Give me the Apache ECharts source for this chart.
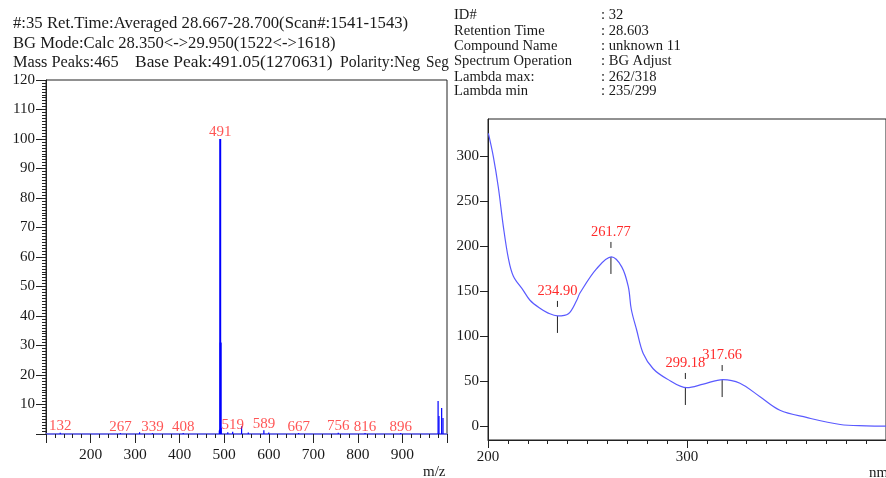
<!DOCTYPE html>
<html>
<head>
<meta charset="utf-8">
<script src="https://cdn.jsdelivr.net/npm/echarts@6/dist/echarts.min.js"></script>
<style>
  html, body { margin: 0; padding: 0; background: #fff; }
  #chart { width: 886px; height: 478px; }
</style>
</head>
<body>
<div id="chart"></div>
<script>
// mass spectrum: m/z and relative intensity (%)
const massMz = [132, 267, 310, 339, 408, 489, 490, 491, 492, 493, 508, 519, 539, 554, 589, 600, 667, 756, 816, 896, 980, 982, 988, 991];
const massInt = [0.4, 0.3, 0.6, 0.3, 0.3, 1.2, 1.5, 100, 31, 2, 0.6, 0.8, 2.6, 0.5, 1.3, 0.5, 0.3, 0.4, 0.3, 0.3, 11.2, 6.1, 8.8, 5.4];
const massLabels = [132, 267, 339, 408, 491, 519, 589, 667, 756, 816, 896];

// UV spectrum: wavelength (nm) and absorbance (mAU)
const uvNm = [200.2, 202.7, 205.2, 207.7, 210.2, 212.7, 217.7, 221.1, 226.1, 230, 235, 240.4, 244.6, 246.2, 254.6, 262, 267.2, 270.5, 272, 274.7, 278, 283, 289.8, 300, 308.2, 318, 326.6, 336.7, 346.7, 360, 377, 390, 400];
const uvAbs = [325, 299, 265, 222, 187, 167, 151, 140, 131, 126, 122.6, 125, 140, 148, 175, 188, 177, 155, 130, 107, 81, 64, 53, 43, 47, 52, 48, 33, 18, 10, 2.2, 0.7, 0.3];
const uvPeakNm = [234.90, 261.77, 299.18, 317.66];
const uvPeakAbs = [122.6, 188, 42.7, 51.5];

const uvYLabels = [0, 50, 100, 150, 200, 250, 300];
const uvYMinor = [-10, 0, 10, 20, 30, 40, 50, 60, 70, 80, 90, 100, 110, 120, 130, 140, 150, 160, 170, 180, 190, 200, 210, 220, 230, 240, 250, 260, 270, 280, 290, 300, 310, 320, 330, 340];

const headLeft = [
  '#:35 Ret.Time:Averaged 28.667-28.700(Scan#:1541-1543)',
  'BG Mode:Calc 28.350<->29.950(1522<->1618)'
];
const headLeft3 = ['Mass Peaks:465', 'Base Peak:491.05(1270631)', 'Polarity:Neg', 'Seg'];
const infoKeys = ['ID#', 'Retention Time', 'Compound Name', 'Spectrum Operation', 'Lambda max:', 'Lambda min'];
const infoVals = [': 32', ': 28.603', ': unknown 11', ': BG Adjust', ': 262/318', ': 235/299'];

const SERIF = "'Liberation Serif', 'DejaVu Serif', serif";
const INK = '#1a1a1a';
const RED = '#ff2a2a';

const massData = massMz.map((m, i) => [m, massInt[i]]);
const massLabelData = massLabels.map(m => [m, massInt[massMz.indexOf(m)]]);
const uvData = uvNm.map((n, i) => [n, uvAbs[i]]);
const uvPeaks = uvPeakNm.map((n, i) => [n, uvPeakAbs[i]]);

// header text, stretched a little to match the original's wide digits
const graphics = [];
const headScale = [1.045, 1.038];
headLeft.forEach((t, i) => {
  graphics.push({ type: 'text', x: 13, y: 24 + i * 19.5, scaleX: headScale[i],
    style: { x: 0, y: 0, text: t, font: '16px ' + SERIF, fill: INK, verticalAlign: 'middle' } });
});
const l3x = [13, 135, 340, 426];
const l3s = [1.02, 1.09, 0.98, 0.95];
headLeft3.forEach((t, i) => {
  graphics.push({ type: 'text', x: l3x[i], y: 63, scaleX: l3s[i],
    style: { x: 0, y: 0, text: t, font: '16px ' + SERIF, fill: INK, verticalAlign: 'middle' } });
});
const infoY = [15, 31, 46, 61.5, 77, 91.5];
infoKeys.forEach((t, i) => {
  graphics.push({ type: 'text', style: { x: 454, y: infoY[i], text: t, font: '14.6px ' + SERIF, fill: INK, verticalAlign: 'middle' } });
  graphics.push({ type: 'text', style: { x: 601, y: infoY[i], text: infoVals[i], font: '14.6px ' + SERIF, fill: INK, verticalAlign: 'middle' } });
});
graphics.push({ type: 'text', style: { x: 423, y: 472, text: 'm/z', font: '15px ' + SERIF, fill: INK, verticalAlign: 'middle' } });
graphics.push({ type: 'text', style: { x: 869, y: 473, text: 'nm', font: '15px ' + SERIF, fill: INK, verticalAlign: 'middle' } });

const chart = echarts.init(document.getElementById('chart'), null, { renderer: 'canvas' });

const option = {
  animation: false,
  backgroundColor: '#fff',
  textStyle: { fontFamily: SERIF },
  graphic: graphics,
  grid: [
    { left: 46, top: 80, width: 401, bottom: 44, show: true, borderColor: '#222', borderWidth: 1 },
    { left: 488, top: 119, right: -2, bottom: 38, show: true, borderColor: '#222', borderWidth: 1 }
  ],
  xAxis: [
    {
      gridIndex: 0, type: 'value', min: 100, max: 1000, interval: 100,
      axisLine: { onZero: false, lineStyle: { color: '#6a6aff', width: 1.5 } },
      axisTick: { length: 9, lineStyle: { color: '#222' } },
      minorTick: { show: true, splitNumber: 5, length: 4, lineStyle: { color: '#222' } },
      axisLabel: { showMinLabel: false, showMaxLabel: false, color: INK, fontSize: 15.5, fontFamily: SERIF, margin: 13 },
      splitLine: { show: false }
    },
    {
      gridIndex: 1, type: 'value', min: 200, max: 400, interval: 100,
      axisLine: { onZero: false, lineStyle: { color: '#222' } },
      axisTick: { length: 8, lineStyle: { color: '#222' } },
      minorTick: { show: true, splitNumber: 10, length: 4, lineStyle: { color: '#222' } },
      axisLabel: { showMaxLabel: false, color: INK, fontSize: 15, fontFamily: SERIF, margin: 10 },
      splitLine: { show: false }
    }
  ],
  yAxis: [
    {
      gridIndex: 0, type: 'value', min: 0, max: 120, interval: 10,
      axisLine: { show: true, lineStyle: { color: '#222' } },
      axisTick: { length: 10, lineStyle: { color: '#222' } },
      minorTick: { show: true, splitNumber: 10, length: 4, lineStyle: { color: '#222' } },
      axisLabel: { showMinLabel: false, color: INK, fontSize: 15, fontFamily: SERIF, margin: 11 },
      splitLine: { show: false }
    },
    {
      gridIndex: 1, type: 'value', min: -15, max: 341,
      axisLine: { show: true, lineStyle: { color: '#222' } },
      axisTick: { length: 8, customValues: uvYLabels, lineStyle: { color: '#222' } },
      axisLabel: { customValues: uvYLabels, color: INK, fontSize: 15, fontFamily: SERIF, margin: 9 },
      splitLine: { show: false }
    },
    {
      gridIndex: 1, type: 'value', min: -15, max: 341,
      axisLine: { show: false },
      axisTick: { length: 4, customValues: uvYMinor, lineStyle: { color: '#222' } },
      axisLabel: { show: false },
      splitLine: { show: false }
    }
  ],
  series: [
    {
      type: 'custom', xAxisIndex: 0, yAxisIndex: 0, data: massData, clip: true,
      renderItem: (params, api) => {
        const p0 = api.coord([api.value(0), 0]);
        const p1 = api.coord([api.value(0), api.value(1)]);
        return {
          type: 'line',
          shape: { x1: p0[0], y1: p0[1], x2: p1[0], y2: p1[1] },
          style: { stroke: '#0000ff', lineWidth: api.value(1) > 20 ? 2 : 1.2 }
        };
      }
    },
    {
      type: 'scatter', xAxisIndex: 0, yAxisIndex: 0, data: massLabelData, symbolSize: 0,
      label: {
        show: true, position: 'top', distance: 0, offset: [0, 1], color: RED, fontSize: 15, fontFamily: SERIF,
        formatter: p => String(p.value[0])
      }
    },
    {
      type: 'line', xAxisIndex: 1, yAxisIndex: 1, data: uvData, smooth: 0.35, showSymbol: false,
      lineStyle: { color: '#5a5aff', width: 1.2 }
    },
    {
      type: 'custom', xAxisIndex: 1, yAxisIndex: 1, data: uvPeaks,
      renderItem: (params, api) => {
        const p = api.coord([api.value(0), api.value(1)]);
        return {
          type: 'group',
          children: [
            { type: 'line', shape: { x1: p[0], y1: p[1], x2: p[0], y2: p[1] + 17 }, style: { stroke: '#222', lineWidth: 1 } },
            { type: 'line', shape: { x1: p[0], y1: p[1] - 15, x2: p[0], y2: p[1] - 9 }, style: { stroke: '#222', lineWidth: 1 } },
            { type: 'text', style: { x: p[0], y: p[1] - 25, text: api.value(0).toFixed(2), fill: RED, font: '14.5px ' + SERIF, align: 'center', verticalAlign: 'middle' } }
          ]
        };
      }
    }
  ]
};

chart.setOption(option);
</script>
</body>
</html>
